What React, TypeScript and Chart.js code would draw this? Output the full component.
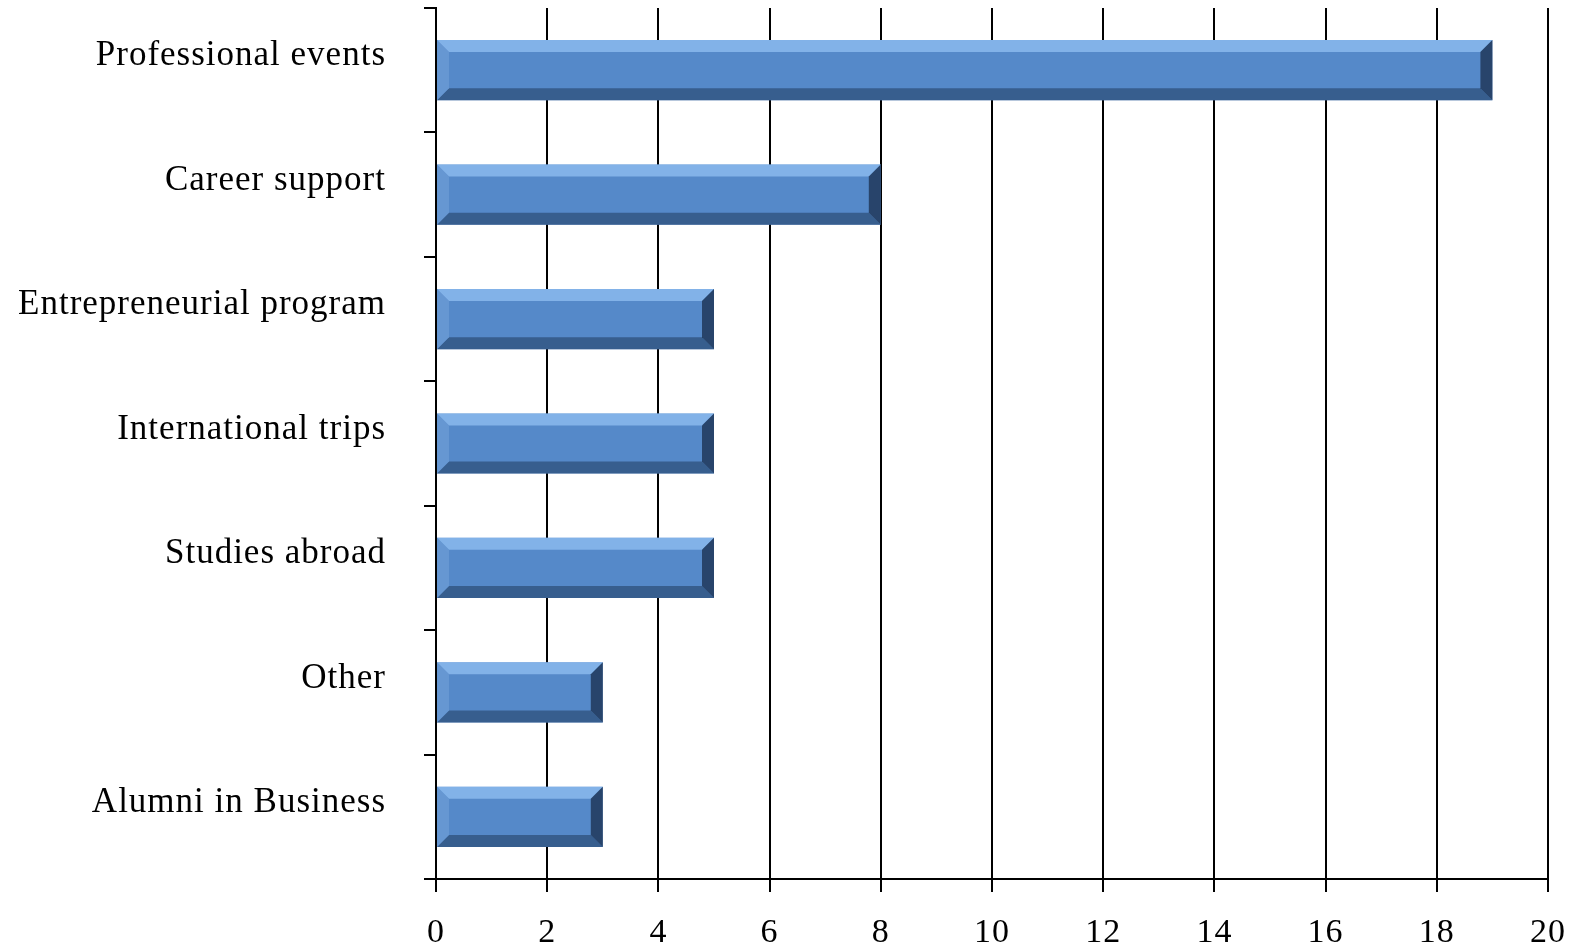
import React, { useEffect, useRef } from "react";
import { Chart, registerables } from "chart.js";

Chart.register(...registerables);

const categories = [
  "Professional events",
  "Career support",
  "Entrepreneurial program",
  "International trips",
  "Studies abroad",
  "Other",
  "Alumni in Business",
];
const values = [19, 8, 5, 5, 5, 3, 3];
const xMin = 0;
const xMax = 20;
const xStep = 2;

const FONT = "'Liberation Serif', 'Times New Roman', serif";

const spacingPlugin = {
  id: "spacing",
  beforeDraw(chart: any) {
    (chart.ctx as any).letterSpacing = "1px";
  },
};

const bevelPlugin = {
  id: "bevel",
  afterDatasetsDraw(chart: any) {
    const ctx = chart.ctx;
    const meta = chart.getDatasetMeta(0);
    meta.data.forEach((bar: any) => {
      const props = bar.getProps(["x", "y", "base", "height"], true);
      const left = Math.min(props.base, props.x);
      const right = Math.max(props.base, props.x);
      const top = props.y - props.height / 2;
      const bottom = props.y + props.height / 2;
      const b = 12;
      ctx.save();
      ctx.fillStyle = "rgba(150,195,245,0.7)";
      ctx.beginPath();
      ctx.moveTo(left, top);
      ctx.lineTo(right, top);
      ctx.lineTo(right - b, top + b);
      ctx.lineTo(left + b, top + b);
      ctx.closePath();
      ctx.fill();
      ctx.fillStyle = "rgba(40,70,110,0.65)";
      ctx.beginPath();
      ctx.moveTo(left, bottom);
      ctx.lineTo(right, bottom);
      ctx.lineTo(right - b, bottom - b);
      ctx.lineTo(left + b, bottom - b);
      ctx.closePath();
      ctx.fill();
      ctx.fillStyle = "rgba(120,165,220,0.5)";
      ctx.beginPath();
      ctx.moveTo(left, top);
      ctx.lineTo(left + b, top + b);
      ctx.lineTo(left + b, bottom - b);
      ctx.lineTo(left, bottom);
      ctx.closePath();
      ctx.fill();
      ctx.fillStyle = "rgba(25,45,75,0.75)";
      ctx.beginPath();
      ctx.moveTo(right, top);
      ctx.lineTo(right - b, top + b);
      ctx.lineTo(right - b, bottom - b);
      ctx.lineTo(right, bottom);
      ctx.closePath();
      ctx.fill();
      ctx.restore();
    });
  },
};

export default function App() {
  const ref = useRef<HTMLCanvasElement | null>(null);
  useEffect(() => {
    document.body.style.margin = "0";
    const chart = new Chart(ref.current!, {
      type: "bar",
      data: {
        labels: categories,
        datasets: [
          {
            data: values,
            backgroundColor: "#5589C9",
            borderWidth: 0,
            categoryPercentage: 1,
            barPercentage: 0.484,
          },
        ],
      },
      options: {
        indexAxis: "y",
        animation: false,
        responsive: false,
        maintainAspectRatio: false,
        layout: { padding: { top: 8, right: 27, left: 0, bottom: 0 } },
        plugins: { legend: { display: false }, tooltip: { enabled: false } },
        scales: {
          x: {
            min: xMin,
            max: xMax,
            ticks: {
              stepSize: xStep,
              color: "#000",
              font: { family: FONT, size: 34 },
              padding: 21,
            },
            grid: {
              color: "#000",
              lineWidth: 2,
              tickLength: 13,
              drawTicks: true,
            },
            border: { color: "#000", width: 2 },
            afterFit: (s: any) => {
              s.height = 66;
              s.paddingLeft = 0;
              s.paddingRight = 0;
            },
          },
          y: {
            ticks: {
              color: "#000",
              font: { family: FONT, size: 35 },
              padding: 38,
              labelOffset: -14,
            },
            grid: {
              color: "#000",
              lineWidth: 2,
              drawOnChartArea: false,
              tickLength: 12,
              offset: true,
            },
            border: { color: "#000", width: 2 },
            afterFit: (s: any) => {
              s.width = 436;
              s.paddingTop = 0;
              s.paddingBottom = 0;
            },
          },
        },
      },
      plugins: [spacingPlugin, bevelPlugin],
    });
    return () => chart.destroy();
  }, []);
  return (
    <div style={{ width: 1575, height: 945 }}>
      <canvas ref={ref} width={1575} height={945} />
    </div>
  );
}
